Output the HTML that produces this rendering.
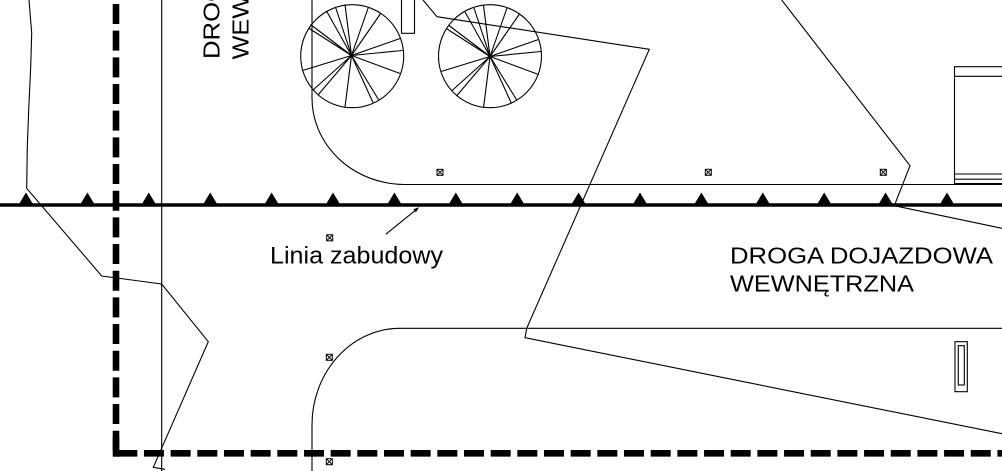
<!DOCTYPE html>
<html>
<head>
<meta charset="utf-8">
<style>
  html,body{margin:0;padding:0;background:#fff;}
  body{width:1002px;height:471px;overflow:hidden;}
  svg{display:block;}
  text{font-family:"Liberation Sans","DejaVu Sans",sans-serif;fill:#000;}
</style>
</head>
<body>
<svg width="1002" height="471" viewBox="0 0 1002 471" xmlns="http://www.w3.org/2000/svg">
  <rect x="0" y="0" width="1002" height="471" fill="#fff"/>

  <g fill="none" stroke="#000" stroke-width="1.1">
    <!-- left irregular line -->
    <polyline points="29,0 31.7,33 30.7,66.7 28.7,110 27.3,146.7 26.7,188.3 101.7,276 161.7,284 208.3,341.7 153.3,467.3 165,469.3"/>
    <!-- thin vertical line -->
    <line x1="161.7" y1="0" x2="161.7" y2="471"/>

    <!-- top curve (kerb) -->
    <path d="M312,0 L312,98 A93,86.5 0 0 0 405,184.5 L1002,184.5"/>
    <!-- bottom road kerb -->
    <path d="M312,471 L312,425 A88,96.7 0 0 1 400,328.3 L1002,328.3"/>

    <!-- diagonal plot line 1 -->
    <polyline points="423,0 437,16.7 649.3,49.3 526.7,328.3 525,337.7 1002,433.7"/>
    <!-- diagonal plot line 2 -->
    <polyline points="781.7,0 910,165.7 894.3,205.7 1002,228.3"/>

    <!-- top small rectangle -->
    <rect x="401.5" y="-2" width="13" height="35.3"/>

    <!-- right box -->
    <polyline points="1003,66.7 954.5,66.7 954.5,184.5 1003,184.5"/>
    <line x1="954.5" y1="76.3" x2="1002" y2="76.3"/>
    <line x1="954.5" y1="174" x2="1002" y2="174"/>
    <line x1="954.5" y1="179.2" x2="1002" y2="179.2"/>
    <line x1="954.5" y1="183.8" x2="1002" y2="183.8" stroke-width="1.6"/>

    <!-- bottom-right small rectangle -->
    <rect x="955" y="341.7" width="12.3" height="50"/>
    <rect x="958.3" y="345.7" width="6" height="39.3"/>

    <!-- trees -->
    <circle cx="352.2" cy="56.2" r="51.5"/>
    <circle cx="490" cy="56.2" r="51.5"/>
    <g>
      <line x1="351.5" y1="55.5" x2="326.5" y2="11"/>
      <line x1="351.5" y1="55.5" x2="335.5" y2="7"/>
      <line x1="351.5" y1="55.5" x2="345" y2="4.5"/>
      <line x1="351.5" y1="55.5" x2="368.5" y2="7"/>
      <line x1="351.5" y1="55.5" x2="381" y2="13"/>
      <line x1="351.5" y1="55.5" x2="400" y2="38.5"/>
      <line x1="351.5" y1="55.5" x2="402.5" y2="50.5"/>
      <line x1="351.5" y1="55.5" x2="400" y2="73.5"/>
      <line x1="351.5" y1="55.5" x2="378.5" y2="99.5"/>
      <line x1="351.5" y1="55.5" x2="373" y2="102.5"/>
      <line x1="351.5" y1="55.5" x2="345" y2="107"/>
      <line x1="351.5" y1="55.5" x2="318" y2="95"/>
      <line x1="351.5" y1="55.5" x2="313" y2="90"/>
      <line x1="351.5" y1="55.5" x2="302.5" y2="70.5"/>
      <line x1="351.5" y1="55.5" x2="310.5" y2="24.5"/>
      <line x1="351.5" y1="55.5" x2="308.5" y2="28"/>
    </g>
    <g>
      <line x1="490" y1="56.5" x2="465" y2="12"/>
      <line x1="490" y1="56.5" x2="474" y2="8"/>
      <line x1="490" y1="56.5" x2="483.5" y2="5.5"/>
      <line x1="490" y1="56.5" x2="507" y2="8"/>
      <line x1="490" y1="56.5" x2="519.5" y2="14"/>
      <line x1="490" y1="56.5" x2="538.5" y2="39.5"/>
      <line x1="490" y1="56.5" x2="541" y2="51.5"/>
      <line x1="490" y1="56.5" x2="538.5" y2="74.5"/>
      <line x1="490" y1="56.5" x2="517" y2="100.5"/>
      <line x1="490" y1="56.5" x2="511.5" y2="103.5"/>
      <line x1="490" y1="56.5" x2="483.5" y2="108"/>
      <line x1="490" y1="56.5" x2="456.5" y2="96"/>
      <line x1="490" y1="56.5" x2="451.5" y2="91"/>
      <line x1="490" y1="56.5" x2="441" y2="71.5"/>
      <line x1="490" y1="56.5" x2="449" y2="25.5"/>
      <line x1="490" y1="56.5" x2="447" y2="29"/>
    </g>

    <!-- markers -->
    <g stroke-width="1">
      <rect x="326.7" y="234.8" width="6" height="6"/><path d="M326.7,234.8 l6,6 M332.7,234.8 l-6,6"/>
      <rect x="437" y="169.3" width="6" height="6"/><path d="M437,169.3 l6,6 M443,169.3 l-6,6"/>
      <rect x="705.3" y="169.3" width="6" height="6"/><path d="M705.3,169.3 l6,6 M711.3,169.3 l-6,6"/>
      <rect x="880.3" y="169.3" width="6" height="6"/><path d="M880.3,169.3 l6,6 M886.3,169.3 l-6,6"/>
      <rect x="326.3" y="354.3" width="6" height="6"/><path d="M326.3,354.3 l6,6 M332.3,354.3 l-6,6"/>
      <rect x="326.3" y="458.7" width="6" height="6"/><path d="M326.3,458.7 l6,6 M332.3,458.7 l-6,6"/>
    </g>

    <!-- leader arrow -->
    <line x1="385.7" y1="234.3" x2="418" y2="208.2"/>
  </g>
  <polygon points="419,207.3 413.3,209.3 415.9,212.4" fill="#000"/>

  <!-- tree centre dots -->
  <circle cx="351.5" cy="55.5" r="2" fill="#000"/>
  <circle cx="490" cy="56.5" r="2" fill="#000"/>

  <!-- thick building line with triangles -->
  <line x1="0" y1="205" x2="1002" y2="205" stroke="#000" stroke-width="3.4"/>
  <g fill="#000">
    <polygon points="18.5,205 26,192.5 33.5,205"/>
    <polygon points="79.9,205 87.4,192.5 94.9,205"/>
    <polygon points="141.3,205 148.8,192.5 156.3,205"/>
    <polygon points="202.7,205 210.2,192.5 217.7,205"/>
    <polygon points="264.1,205 271.6,192.5 279.1,205"/>
    <polygon points="325.5,205 333,192.5 340.5,205"/>
    <polygon points="386.9,205 394.4,192.5 401.9,205"/>
    <polygon points="448.3,205 455.8,192.5 463.3,205"/>
    <polygon points="509.7,205 517.2,192.5 524.7,205"/>
    <polygon points="571.1,205 578.6,192.5 586.1,205"/>
    <polygon points="632.5,205 640,192.5 647.5,205"/>
    <polygon points="693.9,205 701.4,192.5 708.9,205"/>
    <polygon points="755.3,205 762.8,192.5 770.3,205"/>
    <polygon points="816.7,205 824.2,192.5 831.7,205"/>
    <polygon points="878.1,205 885.6,192.5 893.1,205"/>
    <polygon points="939.5,205 947,192.5 954.5,205"/>
  </g>

  <!-- thick dashed boundary -->
  <line x1="116" y1="4" x2="116" y2="457" stroke="#000" stroke-width="6.6" stroke-dasharray="20 6.67"/>
  <rect x="112.7" y="437" width="6.6" height="19.7" fill="#000"/>
  <line x1="117.3" y1="453.3" x2="1002" y2="453.3" stroke="#000" stroke-width="6.6" stroke-dasharray="20 6.67"/>

  <!-- labels -->
  <text x="270" y="263.3" font-size="24" textLength="173" lengthAdjust="spacingAndGlyphs">Linia zabudowy</text>
  <text x="730" y="263.3" font-size="23.5" textLength="263" lengthAdjust="spacingAndGlyphs">DROGA DOJAZDOWA</text>
  <text x="730" y="291.7" font-size="23.5" textLength="184" lengthAdjust="spacingAndGlyphs">WEWNĘTRZNA</text>

  <text transform="translate(219.5,59) rotate(-90)" font-size="23.5" textLength="263" lengthAdjust="spacingAndGlyphs">DROGA DOJAZDOWA</text>
  <text transform="translate(248.3,59.5) rotate(-90)" font-size="23.5" textLength="184" lengthAdjust="spacingAndGlyphs">WEWNĘTRZNA</text>
</svg>
</body>
</html>
